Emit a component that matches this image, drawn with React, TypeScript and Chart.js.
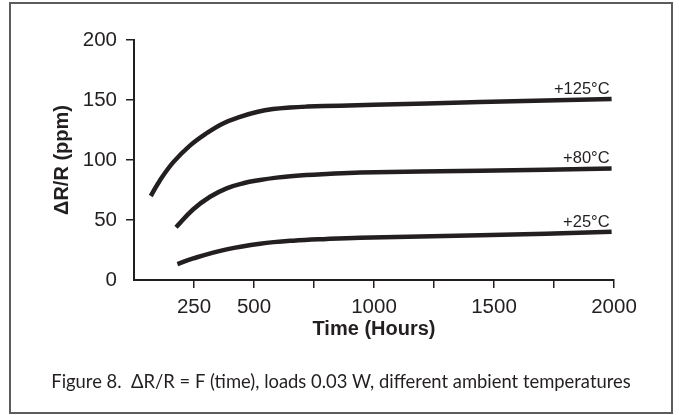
import React, { useEffect, useRef } from "react";
import { Chart, registerables } from "chart.js";

Chart.register(...registerables);

// ---- data ----
const hours125 = [70, 108, 163, 233, 304, 371, 442, 512, 579, 650, 721, 858, 1000, 1442, 1990];
const ppm125 = [70, 83, 98, 112, 122.5, 130.5, 136, 140, 142.5, 143.8, 144.5, 145.3, 146, 148.3, 150.8];

const hours80 = [175, 247, 317, 386, 455, 525, 594, 664, 803, 942, 1442, 1990];
const ppm80 = [44, 59, 69.4, 76.4, 80.6, 83.3, 85.3, 86.7, 88.3, 89.5, 91, 93];

const hours25 = [181, 247, 386, 525, 664, 803, 942, 1442, 1990];
const ppm25 = [13.3, 18, 25.5, 30.2, 32.8, 34.2, 35.2, 37.2, 40.2];

const curveLabels = ["+125°C", "+80°C", "+25°C"];

const xTickValues = [0, 250, 500, 750, 1000, 1250, 1500, 1750, 2000];
const xTickLabels = ["", "250", "500", "", "1000", "", "1500", "", "2000"];
const yTickValues = [0, 50, 100, 150, 200];
const yTickLabels = ["0", "50", "100", "150", "200"];

const xTitle = "Time (Hours)";
const yTitle = "ΔR/R (ppm)";
const caption = "Figure 8.  ΔR/R = F (time), loads 0.03 W, different ambient temperatures";

const INK = "#231f20";
const SANS = "'Liberation Sans', Arial, Helvetica, sans-serif";

const toPoints = (xs: number[], ys: number[]) => xs.map((x, i) => ({ x, y: ys[i] }));

const decorPlugin = {
  id: "decor",
  beforeDraw(chart: any) {
    const { ctx, width, height } = chart;
    ctx.save();
    ctx.fillStyle = "#ffffff";
    ctx.fillRect(0, 0, width, height);
    ctx.restore();
  },
  afterDatasetsDraw(chart: any) {
    const { ctx } = chart;
    ctx.save();
    ctx.font = `16.5px ${SANS}`;
    ctx.fillStyle = INK;
    ctx.textAlign = "right";
    ctx.textBaseline = "alphabetic";
    chart.data.datasets.forEach((ds: any, i: number) => {
      const meta = chart.getDatasetMeta(i);
      const last = meta.data[meta.data.length - 1];
      if (!last) return;
      ctx.fillText(curveLabels[i], last.x - 2, last.y - 5);
    });
    ctx.restore();
  },
  afterDraw(chart: any) {
    const { ctx } = chart;
    ctx.save();
    ctx.font = `18.4px Lato, 'Open Sans', sans-serif`;
    ctx.fillStyle = INK;
    ctx.textAlign = "center";
    ctx.textBaseline = "alphabetic";
    ctx.fillText(caption, 341, 388);
    ctx.strokeStyle = "#5c5c5c";
    ctx.lineWidth = 2;
    ctx.strokeRect(10, 3, 662, 410);
    ctx.restore();
  },
};

export default function App() {
  const ref = useRef<HTMLCanvasElement | null>(null);

  useEffect(() => {
    if (!ref.current) return;
    const lineStyle = {
      borderColor: INK,
      borderWidth: 4.5,
      borderCapStyle: "butt" as const,
      pointRadius: 0,
      fill: false,
      tension: 0.4,
    };
    const chart = new Chart(ref.current, {
      type: "line",
      data: {
        datasets: [
          { label: curveLabels[0], data: toPoints(hours125, ppm125), ...lineStyle },
          { label: curveLabels[1], data: toPoints(hours80, ppm80), ...lineStyle },
          { label: curveLabels[2], data: toPoints(hours25, ppm25), ...lineStyle },
        ],
      },
      options: {
        animation: false,
        responsive: false,
        devicePixelRatio: 1,
        layout: { padding: { top: 40, right: 65, left: 0, bottom: 0 } },
        plugins: { legend: { display: false }, tooltip: { enabled: false } },
        scales: {
          x: {
            type: "linear",
            min: 0,
            max: 2000,
            afterBuildTicks: (s: any) => {
              s.ticks = xTickValues.map((v) => ({ value: v }));
            },
            afterFit: (s: any) => {
              s.height = 135;
            },
            ticks: {
              autoSkip: false,
              maxRotation: 0,
              padding: 6.7,
              color: INK,
              font: { family: SANS, size: 20.5 },
              callback: (v: any) => {
                const i = xTickValues.indexOf(Number(v));
                return i >= 0 ? xTickLabels[i] : "";
              },
            },
            grid: {
              drawOnChartArea: false,
              drawTicks: true,
              tickLength: 8,
              lineWidth: 1.5,
              color: (c: any) => (c.tick && c.tick.value === 0 ? "rgba(0,0,0,0)" : INK),
            },
            border: { display: true, color: INK, width: 2 },
            title: {
              display: true,
              text: xTitle,
              color: INK,
              font: { family: SANS, size: 20, weight: "bold" },
              padding: { top: 0, bottom: 74 },
            },
          },
          y: {
            type: "linear",
            min: 0,
            max: 200,
            afterBuildTicks: (s: any) => {
              s.ticks = yTickValues.map((v) => ({ value: v }));
            },
            afterFit: (s: any) => {
              s.width = 134;
            },
            ticks: {
              padding: 9,
              color: INK,
              font: { family: SANS, size: 20.5 },
              callback: (v: any) => {
                const i = yTickValues.indexOf(Number(v));
                return i >= 0 ? yTickLabels[i] : "";
              },
            },
            grid: {
              drawOnChartArea: false,
              drawTicks: true,
              tickLength: 8,
              lineWidth: 1.5,
              color: (c: any) => (c.tick && c.tick.value === 0 ? "rgba(0,0,0,0)" : INK),
            },
            border: { display: true, color: INK, width: 2 },
            title: {
              display: true,
              text: yTitle,
              color: INK,
              font: { family: SANS, size: 20, weight: "bold" },
              padding: { top: 50, bottom: 0 },
            },
          },
        },
      },
      plugins: [decorPlugin],
    });
    return () => chart.destroy();
  }, []);

  return (
    <div style={{ position: "absolute", left: 0, top: 0, width: 679, height: 415, background: "#fff" }}>
      <canvas ref={ref} width={679} height={415} style={{ display: "block", width: 679, height: 415 }} />
    </div>
  );
}
